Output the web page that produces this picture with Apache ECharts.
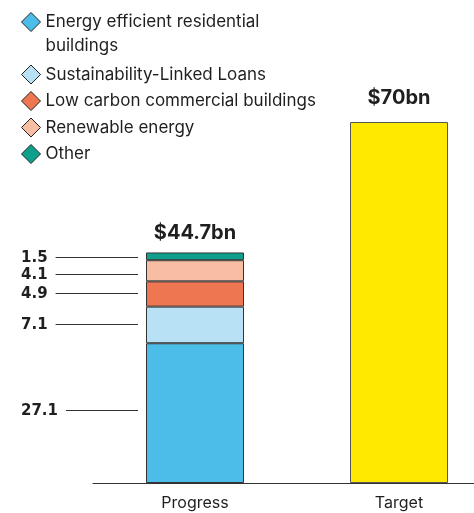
<!DOCTYPE html>
<html>
<head>
<meta charset="utf-8">
<script src="https://cdn.jsdelivr.net/npm/echarts@6/dist/echarts.min.js"></script>
<style>
  html, body { margin: 0; padding: 0; background: #ffffff; }
  #chart { width: 474px; height: 513px; }
</style>
</head>
<body>
<div id="chart"></div>
<script>
// Categories on the x axis
const categories = ['Progress', 'Target'];

// Stacked segments of the Progress bar (bottom to top), $bn
const segmentNames = [
  'Energy efficient residential buildings',
  'Sustainability-Linked Loans',
  'Low carbon commercial buildings',
  'Renewable energy',
  'Other'
];
const progressValues = [27.1, 7.1, 4.9, 4.1, 1.5];

// Target bar, $bn
const targetValue = 70;

// Palette
const segmentColors = ['#4bbde8', '#b9e1f5', '#ee7752', '#f8bea3', '#0fa08c'];
const targetColor = '#ffe900';

const FONT = 'Inter, "Noto Sans", "Liberation Sans", sans-serif';
const NUM_FONT = '"DejaVu Sans", Roboto, sans-serif';
const INK = '#1f1f1f';
const EDGE = '#333333';
const BAR_WIDTH = 98;

// small vertical nudges (px) so the side labels don't crowd each other
const labelNudge = [-3, -1, -1, 3.2, 1];

const progressTotal = Math.round(progressValues.reduce((a, b) => a + b, 0) * 10) / 10;

const measureCtx = document.createElement('canvas').getContext('2d');
function textWidth(str, font) {
  measureCtx.font = font;
  return measureCtx.measureText(str).width;
}

const chart = echarts.init(document.getElementById('chart'), null, { renderer: 'canvas' });

const stackSeries = progressValues.map((v, i) => ({
  name: segmentNames[i],
  type: 'bar',
  stack: 'total',
  barWidth: BAR_WIDTH,
  data: [v, '-'],
  itemStyle: { color: segmentColors[i], borderColor: EDGE, borderWidth: 1 },
  label: i === progressValues.length - 1 ? {
    show: true,
    position: 'top',
    distance: 9,
    formatter: () => '$' + progressTotal + 'bn',
    fontFamily: FONT,
    fontWeight: 'bold',
    fontSize: 20,
    color: INK
  } : { show: false },
  emphasis: { disabled: true }
}));

const targetSeries = {
  name: 'Target',
  type: 'bar',
  stack: 'total',
  barWidth: BAR_WIDTH,
  data: ['-', targetValue],
  itemStyle: { color: targetColor, borderColor: '#555', borderWidth: 1 },
  label: {
    show: true,
    position: 'top',
    distance: 14,
    formatter: (p) => '$' + p.value + 'bn',
    fontFamily: FONT,
    fontWeight: 'bold',
    fontSize: 20,
    color: INK
  },
  emphasis: { disabled: true }
};

// Value labels with leader lines to the left of the Progress bar
const labelFont = 'bold 15px ' + NUM_FONT;
const sideLabels = {
  type: 'custom',
  silent: true,
  z: 5,
  data: progressValues.map((v) => [0, v]),
  renderItem: (params, api) => {
    const i = params.dataIndex;
    let start = 0;
    for (let k = 0; k < i; k++) start += progressValues[k];
    const v = progressValues[i];
    const pt = api.coord([0, start + v / 2]);
    const y = Math.round(pt[1] + labelNudge[i]) + 0.5;
    const barLeft = pt[0] - BAR_WIDTH / 2;
    const textX = 21;
    const txt = String(v);
    const w = textWidth(txt, labelFont);
    return {
      type: 'group',
      children: [
        {
          type: 'text',
          x: textX,
          y: y + 1,
          style: {
            text: txt,
            font: labelFont,
            fill: INK,
            align: 'left',
            verticalAlign: 'middle'
          }
        },
        {
          type: 'line',
          shape: { x1: textX + w + 8, y1: y, x2: barLeft - 8, y2: y },
          style: { stroke: EDGE, lineWidth: 1 }
        }
      ]
    };
  }
};

chart.setOption({
  backgroundColor: '#ffffff',
  animation: false,
  color: segmentColors,
  legend: {
    data: segmentNames.map((n) => ({ name: n, icon: 'diamond' })),
    orient: 'vertical',
    left: 21,
    top: -14,
    padding: 0,
    itemGap: 6.5,
    itemWidth: 19,
    itemHeight: 19,
    itemTextGap: 12,
    selectedMode: false,
    itemStyle: { borderColor: '#222', borderWidth: 1 },
    // the first entry wraps onto a second line; the leading blank line
    // keeps its first line level with the icon
    formatter: (name) => name === segmentNames[0]
      ? '{w|}\n{w|Energy efficient residential}\n{w|buildings}'
      : name,
    textStyle: {
      fontFamily: FONT, fontSize: 17, color: INK, lineHeight: 20,
      rich: { w: { fontFamily: FONT, fontSize: 17, color: INK, lineHeight: 24 } }
    }
  },
  grid: { left: 93, width: 408, top: 122, bottom: 30, containLabel: false, outerBoundsMode: 'none' },
  xAxis: {
    type: 'category',
    data: categories,
    axisLine: { show: true, lineStyle: { color: EDGE, width: 1 } },
    axisTick: { show: false },
    axisLabel: { fontFamily: FONT, fontSize: 16, color: INK, margin: 12 },
    splitLine: { show: false }
  },
  yAxis: {
    type: 'value',
    min: 0,
    max: 70,
    show: false,
    splitLine: { show: false }
  },
  series: [...stackSeries, targetSeries, sideLabels]
});
</script>
</body>
</html>
